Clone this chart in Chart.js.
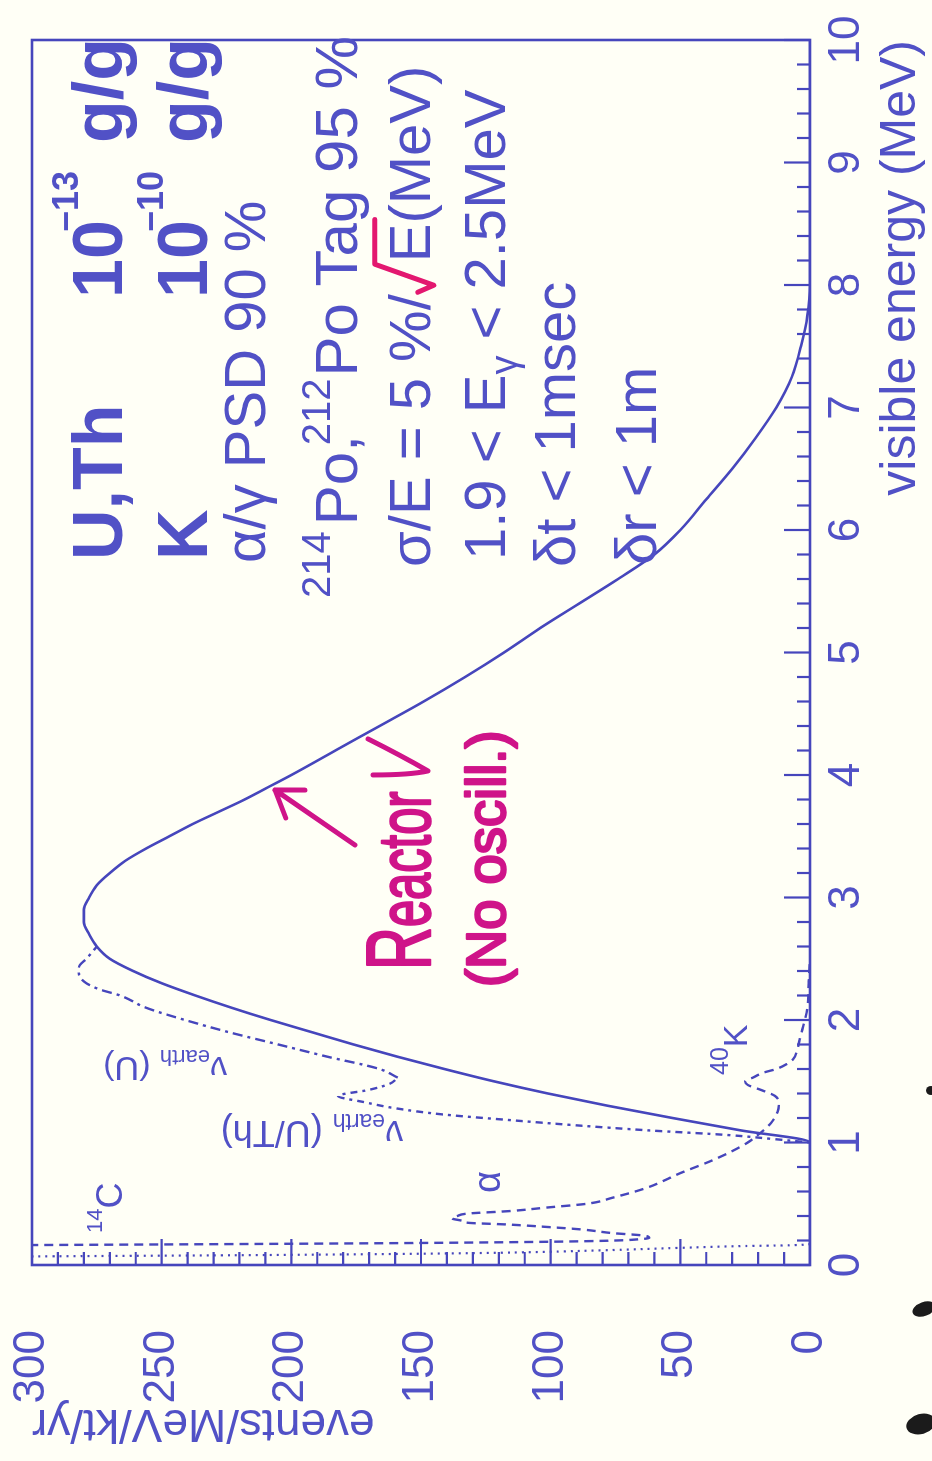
<!DOCTYPE html>
<html>
<head>
<meta charset="utf-8">
<title>Visible energy spectrum</title>
<script src="https://cdn.jsdelivr.net/npm/chart.js@4.4.1/dist/chart.umd.min.js"></script>
<style>
  html, body { margin: 0; padding: 0; background: #fffff6; }
  body { width: 932px; height: 1461px; position: relative; overflow: hidden; }
  /* the plot is laid out landscape and turned a quarter turn counter-clockwise */
  #sheet { position: absolute; left: 0; top: 0; width: 1461px; height: 932px;
           transform-origin: 0 0; transform: translate(0px, 1461px) rotate(-90deg); }
  .blot { position: absolute; background: #1b1b1b; border-radius: 50%; }
</style>
</head>
<body>
<div id="sheet"><canvas id="spectrum" width="1461" height="932"></canvas></div>
<div class="blot" style="left:926px;top:1086px;width:10px;height:9px"></div>
<div class="blot" style="left:912px;top:1302px;width:24px;height:14px;transform:rotate(-20deg)"></div>
<div class="blot" style="left:906px;top:1414px;width:30px;height:20px;transform:rotate(-15deg)"></div>
<script>
// ---- data: visible energy (MeV) and rate (events/MeV/kt/yr) ----
const energyTicks = [0, 1, 2, 3, 4, 5, 6, 7, 8, 9, 10];
const rateTicks = [0, 50, 100, 150, 200, 250, 300];

const reactorEnergy = [0, 0.5, 0.95, 1.0, 1.1, 1.2, 1.3, 1.4, 1.5, 1.6, 1.7, 1.8, 1.9, 2.0,
  2.1, 2.2, 2.3, 2.4, 2.5, 2.6, 2.7, 2.8, 2.9, 3.0, 3.1, 3.2, 3.3, 3.4, 3.5, 3.6, 3.7, 3.8, 3.9, 4.0,
  4.2, 4.4, 4.6, 4.8, 5.0, 5.2, 5.4, 5.6, 5.8, 6.0, 6.25, 6.5, 6.75, 7.0, 7.25, 7.5, 7.75, 8.0, 9.0, 10.0];
const reactorRate = [0, 0, 0, 0, 27, 53, 78, 101, 122, 141, 159, 176, 192, 208,
  223, 237, 250, 261, 270, 275, 278, 280, 280, 278, 275, 270, 264, 256, 247, 238, 228, 218, 209, 200,
  183, 166, 149, 133, 118, 104, 89, 74, 60, 50, 40, 30, 21, 13, 7, 3.5, 1, 0, 0, 0];

const geoUEnergy = [1.53, 1.6, 1.7, 1.8, 1.9, 2.0, 2.1, 2.2, 2.25, 2.3, 2.35, 2.4, 2.45, 2.5, 2.55, 2.6];
const geoURate = [159, 166, 186, 205, 224, 241, 256, 266, 274, 279, 281.5, 282, 281.5, 279, 277, 275];

const geoUThEnergy = [1.0, 1.03, 1.06, 1.1, 1.14, 1.18, 1.23, 1.28, 1.33, 1.38, 1.43, 1.48, 1.53];
const geoUThRate = [0, 15, 31, 63, 90, 114, 142, 160, 172, 182, 170, 162, 159];

const alphaKEnergy = [0.16, 0.17, 0.18, 0.19, 0.2, 0.21, 0.22, 0.24, 0.26, 0.29, 0.31, 0.33, 0.345,
  0.36, 0.38, 0.4, 0.42, 0.44, 0.47, 0.5, 0.55, 0.63, 0.75, 0.86, 0.93, 1.0, 1.08, 1.16, 1.25, 1.32,
  1.38, 1.43, 1.47, 1.5, 1.53, 1.57, 1.6, 1.64, 1.68, 1.75, 1.84, 1.92, 2.0, 2.1, 2.3, 2.5];
const alphaKRate = [330, 230, 150, 100, 75, 66, 62, 64, 76, 88, 101, 116, 132,
  134, 138, 136, 132, 116, 101, 86, 76, 63, 50, 37, 30, 24, 19, 15, 12.5, 12,
  13.5, 19, 24, 25, 22, 18, 13, 9, 6.5, 5, 4, 3, 2, 1, 0.5, 0];

const c14Energy = [0.05, 0.07, 0.08, 0.09, 0.1, 0.12, 0.14, 0.155, 0.16, 0.165, 0.17];
const c14Rate = [400, 300, 220, 160, 120, 80, 50, 25, 10, 3, 0];

// ---- styling ----
const INK = '#4646bc';
const TEXT = '#5151c6';
const PEN = '#cf1489';
const ROOT = '#e3186f';
const FONT = "'Liberation Sans', Arial, Helvetica, sans-serif";

const toPoints = (xs, ys) => xs.map((e, i) => ({ x: e, y: ys[i] }));

function series(label, xs, ys, dash, width) {
  return {
    label, data: toPoints(xs, ys), borderColor: INK, borderWidth: width || 2.4,
    borderDash: dash || [], pointRadius: 0, fill: false, cubicInterpolationMode: 'monotone'
  };
}

// draws a row of text pieces one after another from (x0, y0)
function drawRuns(ctx, x0, y0, runs) {
  let cx = x0;
  for (const r of runs) {
    if (r.at !== undefined) cx = r.at;
    cx += r.dx || 0;
    ctx.font = `${r.weight || 'normal'} ${r.size}px ${r.family || FONT}`;
    if (r.draw) { cx = r.draw(ctx, cx, y0); continue; }
    ctx.fillText(r.t, cx, y0 + (r.dy || 0));
    if (r.stroke) ctx.strokeText(r.t, cx, y0 + (r.dy || 0));
    cx += ctx.measureText(r.t).width;
  }
  return cx;
}

// frame and inward tick marks
const framePlugin = {
  id: 'frameTicks',
  afterDatasetsDraw(chart) {
    const { ctx, chartArea: a, scales: { x, y } } = chart;
    ctx.save();
    ctx.strokeStyle = INK;
    ctx.lineWidth = 2.2;
    ctx.beginPath();
    for (let i = 0; i <= 50; i++) {
      const px = x.getPixelForValue(i / 5);
      const len = i % 5 === 0 ? 26 : 13;
      ctx.moveTo(px, a.bottom);
      ctx.lineTo(px, a.bottom - len);
    }
    for (let v = 0; v <= 300; v += 10) {
      const py = y.getPixelForValue(v);
      const len = v % 50 === 0 ? 26 : 13;
      ctx.moveTo(a.left, py);
      ctx.lineTo(a.left + len, py);
    }
    ctx.stroke();
    ctx.lineWidth = 2.6;
    ctx.strokeRect(a.left, a.top, a.right - a.left, a.bottom - a.top);
    ctx.restore();
  }
};

// labels, selection cuts and the hand-written note
const notesPlugin = {
  id: 'notes',
  afterDraw(chart) {
    const { ctx, scales: { x, y } } = chart;
    const X = e => x.getPixelForValue(e);
    const Y = r => y.getPixelForValue(r);
    ctx.save();
    ctx.fillStyle = TEXT;
    ctx.textBaseline = 'alphabetic';
    ctx.textAlign = 'left';

    const col10 = X(7.894), colUnit = X(9.16);
    drawRuns(ctx, X(5.755), Y(265.3), [
      { t: 'U,Th', size: 70, weight: 'bold' },
      { t: '10', size: 70, weight: 'bold', at: col10 },
      { t: '\u221213', size: 36, weight: 'bold', dx: -12, dy: -44 },
      { t: 'g/g', size: 70, weight: 'bold', at: colUnit }
    ]);
    drawRuns(ctx, X(5.755), Y(232.5), [
      { t: 'K', size: 70, weight: 'bold' },
      { t: '10', size: 70, weight: 'bold', at: col10 },
      { t: '\u221210', size: 36, weight: 'bold', dx: -12, dy: -44 },
      { t: 'g/g', size: 70, weight: 'bold', at: colUnit }
    ]);
    drawRuns(ctx, X(5.731), Y(210.2), [{ t: '\u03b1/\u03b3 PSD 90 %', size: 58 }]);
    drawRuns(ctx, X(5.445), Y(174.7), [
      { t: '214', size: 40, dy: -27 },
      { t: 'Po', size: 60, dx: 6 },
      { t: ',', size: 60 },
      { t: '212', size: 40, dx: -10, dy: -27 },
      { t: 'Po Tag 95 %', size: 60, dx: 2 }
    ]);
    drawRuns(ctx, X(5.698), Y(146.6), [
      { t: '\u03c3/E = 5 %/', size: 58 },
      { size: 58, draw(c, cx, cy) {
          c.save();
          c.font = `normal 58px ${FONT}`;
          const wE = c.measureText('E').width;
          c.strokeStyle = ROOT; c.lineWidth = 5; c.lineCap = 'round'; c.lineJoin = 'round';
          c.beginPath();
          c.moveTo(cx + 2, cy - 12);
          c.lineTo(cx + 9, cy + 4);
          c.lineTo(cx + 30, cy - 55);
          c.lineTo(cx + 32 + wE + 4, cy - 55);
          c.stroke();
          c.restore();
          return cx + 32;
        } },
      { t: 'E(MeV)', size: 58 }
    ]);
    drawRuns(ctx, X(5.755), Y(117.6), [
      { t: '1.9 < E', size: 58 },
      { t: '\u03b3', size: 38, dy: 12 },
      { t: ' < 2.5MeV', size: 58 }
    ]);
    drawRuns(ctx, X(5.698), Y(90.6), [{ t: '\u03b4t < 1msec', size: 58 }]);
    drawRuns(ctx, X(5.714), Y(59.4), [{ t: '\u03b4r < 1m', size: 58 }]);

    // curve labels
    drawRuns(ctx, X(0.261), Y(265.2), [
      { t: '14', size: 22, dy: -20 },
      { t: 'C', size: 36 }
    ]);
    drawRuns(ctx, X(1.551), Y(24.3), [
      { t: '40', size: 25, dy: -19 },
      { t: 'K', size: 34 }
    ]);
    drawRuns(ctx, X(0.588), Y(119.5), [{ t: '\u03b1', size: 38 }]);

    const upright = (e, r, runs) => {
      ctx.save();
      ctx.translate(X(e), Y(r));
      ctx.rotate(-Math.PI / 2);
      drawRuns(ctx, 0, 0, runs);
      ctx.restore();
    };
    upright(1.698, 224.8, [
      { t: '\u03bd', size: 34 },
      { t: 'earth', size: 22, dy: 7 },
      { t: ' (U)', size: 34 }
    ]);
    upright(1.176, 156.9, [
      { t: '\u03bd', size: 36 },
      { t: 'earth', size: 23, dy: 7 },
      { t: ' (U/Th)', size: 36 }
    ]);

    // hand-written note with arrow
    ctx.fillStyle = PEN;
    ctx.strokeStyle = PEN;
    ctx.lineJoin = 'round';
    ctx.lineCap = 'round';
    ctx.lineWidth = 2.6;
    const hand = (e, r, sx, runs) => {
      ctx.save();
      ctx.translate(X(e), Y(r));
      ctx.scale(sx, 1);
      drawRuns(ctx, 0, 0, runs.map(q => Object.assign({ stroke: true }, q)));
      ctx.restore();
    };
    hand(2.408, 146.5, 0.66, [{ t: 'R', size: 90 }, { t: 'eactor', size: 74 }]);
    hand(2.269, 117.6, 0.97, [{ t: '(No oscill.)', size: 56 }]);

    ctx.lineWidth = 5;
    // nu after "Reactor"
    const nx = X(3.984), ny = Y(146.5);
    ctx.beginPath();
    ctx.moveTo(nx + 2, ny - 57);
    ctx.quadraticCurveTo(nx + 2, ny - 20, nx + 6, ny - 2);
    ctx.quadraticCurveTo(nx + 22, ny - 30, nx + 38, ny - 62);
    ctx.stroke();

    const tx = X(3.429), ty = Y(175.5), hx = X(3.878), hy = Y(206.3);
    const ang = Math.atan2(hy - ty, hx - tx);
    ctx.beginPath();
    ctx.moveTo(tx, ty);
    ctx.lineTo(hx, hy);
    for (const s of [-0.6, 0.6]) {
      ctx.moveTo(hx, hy);
      ctx.lineTo(hx - 30 * Math.cos(ang + s), hy - 30 * Math.sin(ang + s));
    }
    ctx.stroke();
    ctx.restore();
  }
};

new Chart(document.getElementById('spectrum'), {
  type: 'line',
  data: {
    datasets: [
      series('14C', c14Energy, c14Rate, [2, 5], 2.2),
      series('alpha + 40K', alphaKEnergy, alphaKRate, [9, 6], 2.4),
      series('geo U/Th', geoUThEnergy, geoUThRate, [3, 5, 7, 5], 2.4),
      series('geo U', geoUEnergy, geoURate, [10, 5, 3, 5], 2.4),
      series('reactor', reactorEnergy, reactorRate, [], 2.6)
    ]
  },
  options: {
    responsive: false,
    animation: false,
    devicePixelRatio: 1,
    layout: { padding: { top: 32, right: 40, left: 0, bottom: 0 } },
    plugins: { legend: { display: false }, tooltip: { enabled: false } },
    scales: {
      x: {
        type: 'linear', position: 'bottom', min: 0, max: 10,
        afterBuildTicks(s) { s.ticks = energyTicks.map(v => ({ value: v })); },
        afterFit(s) { s.height = 122; },
        grid: { display: false, drawTicks: true, tickLength: 10 },
        border: { display: false },
        ticks: { color: TEXT, font: { family: FONT, size: 44 }, padding: 0, maxRotation: 0, autoSkip: false },
        title: { display: true, text: 'visible energy (MeV)', align: 'end', color: TEXT,
                 font: { family: FONT, size: 50 }, padding: { top: 0, bottom: 1 } }
      },
      y: {
        type: 'linear', position: 'left', min: 0, max: 300,
        afterBuildTicks(s) { s.ticks = rateTicks.map(v => ({ value: v })); },
        afterFit(s) { s.width = 196; },
        grid: { display: false, drawTicks: true, tickLength: 65 },
        border: { display: false },
        ticks: { color: TEXT, font: { family: FONT, size: 44 }, padding: 0, autoSkip: false },
        title: { display: true, text: 'events/MeV/kt/yr', align: 'end', color: TEXT,
                 font: { family: FONT, size: 46 }, padding: { top: 11, bottom: 0 } }
      }
    }
  },
  plugins: [framePlugin, notesPlugin]
});
</script>
</body>
</html>
